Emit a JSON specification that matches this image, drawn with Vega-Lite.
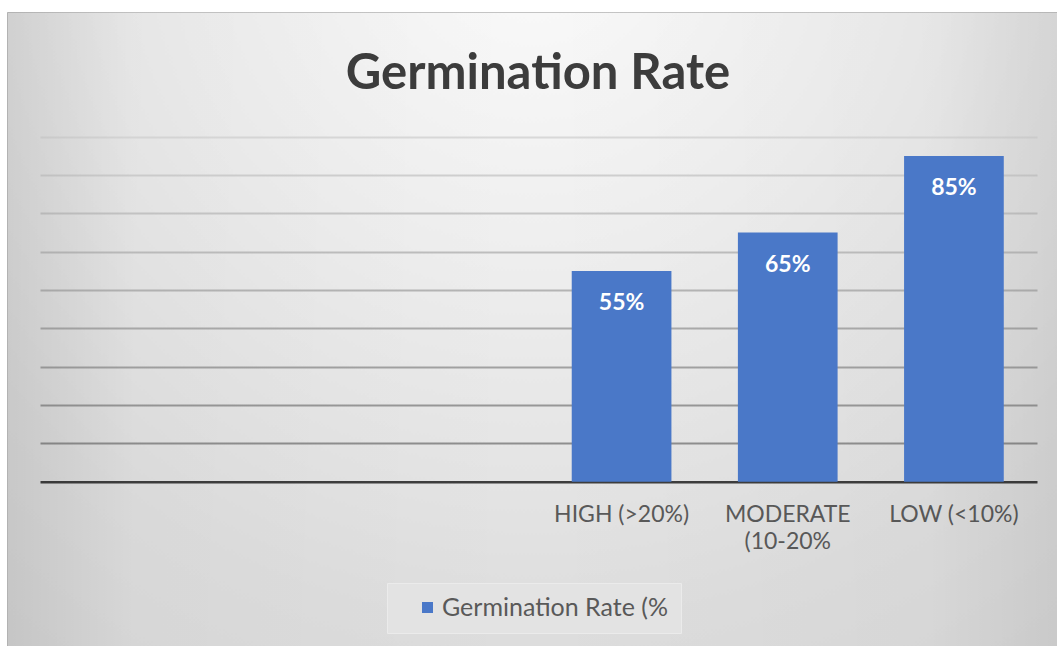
{
  "$schema": "https://vega.github.io/schema/vega-lite/v6.json",
  "width": 1050,
  "height": 634,
  "autosize": {"type": "none"},
  "padding": {"left": 7, "top": 12, "right": 0, "bottom": 0},
  "background": "#ffffff",
  "title": {
    "text": "Germination Rate",
    "font": "Lato",
    "fontSize": 49,
    "fontWeight": "bold",
    "color": "#3c3c3c",
    "anchor": "middle",
    "baseline": "alphabetic",
    "offset": -126,
    "dx": 6
  },
  "data": {
    "values": [
      {"category": "HIGH (>20%)", "rate": 0.55, "series": "Germination Rate (%"},
      {"category": "MODERATE (10-20%", "rate": 0.65, "series": "Germination Rate (%"},
      {"category": "LOW (<10%)", "rate": 0.85, "series": "Germination Rate (%"}
    ]
  },
  "layer": [
    {
      "data": {"values": [{"band": "frame"}]},
      "mark": {
        "type": "rect",
        "strokeWidth": 0,
        "fill": {
          "gradient": "linear",
          "x1": 0, "y1": 0, "x2": 1, "y2": 0,
          "stops": [
            {"offset": 0, "color": "rgba(0,0,0,0.09)"},
            {"offset": 0.12, "color": "rgba(0,0,0,0.02)"},
            {"offset": 0.5, "color": "rgba(0,0,0,0)"},
            {"offset": 0.88, "color": "rgba(0,0,0,0.02)"},
            {"offset": 1, "color": "rgba(0,0,0,0.07)"}
          ]
        }
      },
      "encoding": {
        "y": {
          "datum": 1.2254,
          "type": "quantitative",
          "title": null,
          "scale": {"domain": [-0.4286, 1.2254], "nice": false, "zero": false},
          "axis": {
            "title": null,
            "labels": false,
            "ticks": false,
            "domain": false,
            "grid": true,
            "gridWidth": 2,
            "values": [0.1, 0.2, 0.3, 0.4, 0.5, 0.6, 0.7, 0.8, 0.9],
            "gridColor": {
              "condition": [
                {"test": "datum.value < 0.15", "value": "#8e8e8e"},
                {"test": "datum.value < 0.25", "value": "#979797"},
                {"test": "datum.value < 0.35", "value": "#a1a1a1"},
                {"test": "datum.value < 0.45", "value": "#aaaaaa"},
                {"test": "datum.value < 0.55", "value": "#b4b4b4"},
                {"test": "datum.value < 0.65", "value": "#bdbdbd"},
                {"test": "datum.value < 0.75", "value": "#c6c6c6"},
                {"test": "datum.value < 0.85", "value": "#cfcfcf"}
              ],
              "value": "#d8d8d8"
            }
          }
        },
        "y2": {"datum": -0.4286}
      }
    },
    {
      "mark": {"type": "bar", "color": "#4a78c8"},
      "encoding": {
        "x": {
          "field": "category",
          "type": "nominal",
          "title": null,
          "sort": null,
          "scale": {
            "domain": [" ", "  ", "   ", "HIGH (>20%)", "MODERATE (10-20%", "LOW (<10%)"],
            "range": [33, 1030],
            "paddingInner": 0.4,
            "paddingOuter": 0.2
          },
          "axis": {
            "orient": "bottom",
            "offset": -164.3,
            "title": null,
            "ticks": false,
            "tickSize": 0,
            "labelPadding": 22,
            "labelAngle": 0,
            "labelFont": "Lato",
            "labelFontSize": 23,
            "labelColor": "#595959",
            "labelLineHeight": 27,
            "labelOverlap": false,
            "labelBound": false,
            "labelLimit": 300,
            "labelExpr": "datum.label == 'MODERATE (10-20%' ? ['MODERATE', '(10-20%'] : datum.label",
            "domainColor": "#3d3d3d",
            "domainWidth": 2.5,
            "grid": false
          }
        },
        "y": {"field": "rate", "type": "quantitative", "title": null},
        "y2": {"datum": 0},
        "color": {
          "field": "series",
          "type": "nominal",
          "scale": {"range": ["#4a78c8"]},
          "legend": {
            "orient": "none",
            "legendX": 380,
            "legendY": 571,
            "direction": "horizontal",
            "title": null,
            "symbolType": "square",
            "symbolSize": 121,
            "symbolStrokeWidth": 0,
            "symbolOffset": 16,
            "labelFont": "Lato",
            "labelFontSize": 25,
            "labelColor": "#595959",
            "labelOffset": 2,
            "labelLimit": 400,
            "fillColor": "#e3e3e3",
            "strokeColor": "#ebebeb",
            "padding": 12
          }
        }
      }
    },
    {
      "mark": {
        "type": "text",
        "color": "#ffffff",
        "font": "Lato",
        "fontSize": 23,
        "fontWeight": "bold",
        "baseline": "alphabetic",
        "align": "center",
        "dy": 39
      },
      "encoding": {
        "x": {"field": "category", "type": "nominal", "sort": null},
        "y": {"field": "rate", "type": "quantitative"},
        "text": {"field": "rate", "type": "quantitative", "format": ".0%"}
      }
    }
  ],
  "config": {
    "font": "Lato",
    "view": {
      "stroke": "#c4c4c4",
      "strokeWidth": 1,
      "fill": {
        "gradient": "radial",
        "x1": 0.5, "y1": 0.12, "r1": 0,
        "x2": 0.5, "y2": 0.12, "r2": 0.95,
        "stops": [
          {"offset": 0, "color": "#fbfbfb"},
          {"offset": 0.35, "color": "#ededed"},
          {"offset": 0.7, "color": "#dddddd"},
          {"offset": 1, "color": "#d6d6d6"}
        ]
      }
    }
  }
}
